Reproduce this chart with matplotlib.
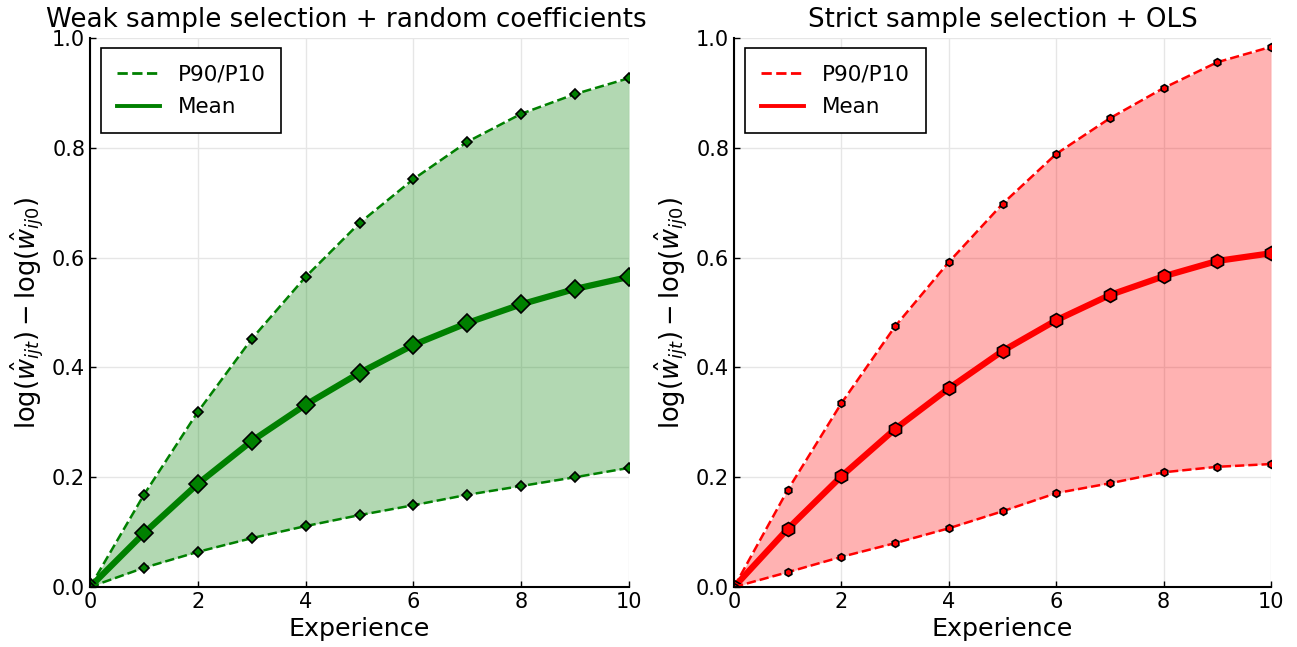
import numpy as np
import matplotlib.pyplot as plt

plt.rcParams['font.family'] = 'DejaVu Sans'
plt.rcParams['mathtext.fontset'] = 'dejavusans'

experience = [0, 1, 2, 3, 4, 5, 6, 7, 8, 9, 10]

# weak sample selection + random coefficients
weak_p90 = [0.0, 0.168, 0.319, 0.452, 0.565, 0.663, 0.743, 0.811, 0.862, 0.898, 0.927]
weak_mean = [0.0, 0.098, 0.188, 0.266, 0.332, 0.390, 0.441, 0.481, 0.515, 0.543, 0.565]
weak_p10 = [0.0, 0.035, 0.064, 0.089, 0.111, 0.131, 0.149, 0.168, 0.184, 0.200, 0.217]

# strict sample selection + OLS
strict_p90 = [0.0, 0.177, 0.335, 0.475, 0.592, 0.698, 0.789, 0.854, 0.909, 0.956, 0.984]
strict_mean = [0.0, 0.106, 0.202, 0.288, 0.362, 0.430, 0.486, 0.532, 0.566, 0.594, 0.608]
strict_p10 = [0.0, 0.027, 0.055, 0.080, 0.107, 0.138, 0.171, 0.189, 0.209, 0.219, 0.224]

panels = [
    ("Weak sample selection + random coefficients", weak_p90, weak_mean, weak_p10, "green", "D", 9, 5, 0.475),
    ("Strict sample selection + OLS", strict_p90, strict_mean, strict_p10, "red", "h", 10, 5.5, 0.5),
]

fig = plt.figure(figsize=(12.97, 6.47), dpi=100)
rects = [[0.0694, 0.0927, 0.4156, 0.8485], [0.566, 0.0927, 0.414, 0.8485]]

for rect, (title, p90, mean, p10, col, mk, big, small, tx) in zip(rects, panels):
    ax = fig.add_axes(rect)
    ax.fill_between(experience, p10, p90, color=col, alpha=0.3, linewidth=0)
    ax.plot(experience, p90, '--', color=col, lw=1.8, marker=mk, ms=small,
            mec='black', mew=1.2, label='P90/P10')
    ax.plot(experience, mean, '-', color=col, lw=4.5, marker=mk, ms=big,
            mec='black', mew=1.2, label='Mean')
    ax.plot(experience, p10, '--', color=col, lw=1.8, marker=mk, ms=small,
            mec='black', mew=1.2)

    ax.set_xlim(0, 10)
    ax.set_ylim(0, 1)
    ax.set_xticks([0, 2, 4, 6, 8, 10])
    ax.set_yticks([0.0, 0.2, 0.4, 0.6, 0.8, 1.0])
    ax.set_yticklabels(['0.0', '0.2', '0.4', '0.6', '0.8', '1.0'])
    ax.tick_params(direction='in', labelsize=15, length=4, width=1)
    ax.grid(True, color='#e6e6e6', lw=1)
    ax.set_axisbelow(True)
    for s in ['top', 'right']:
        ax.spines[s].set_visible(False)
    for s in ['left', 'bottom']:
        ax.spines[s].set_linewidth(1.5)
    ax.set_title(title, fontsize=18.8, pad=8, x=tx)
    ax.set_xlabel('Experience', fontsize=18.3)
    ax.set_ylabel(r'$\log(\hat{w}_{ijt}) - \log(\hat{w}_{ij0})$', fontsize=18.5)

    leg_handles = [plt.Line2D([], [], color=col, ls='--', lw=2),
                   plt.Line2D([], [], color=col, ls='-', lw=2.8)]
    leg = ax.legend(leg_handles, ['P90/P10', 'Mean'], loc='upper left', fontsize=15.5,
                    fancybox=False, edgecolor='black', framealpha=1,
                    borderpad=0.75, labelspacing=0.6, handlelength=2.0,
                    handletextpad=0.8, borderaxespad=0,
                    bbox_to_anchor=(11 / 539, 1 - 10 / 549))
    leg.get_frame().set_linewidth(1.2)

fig.savefig('out.png', dpi=100)
